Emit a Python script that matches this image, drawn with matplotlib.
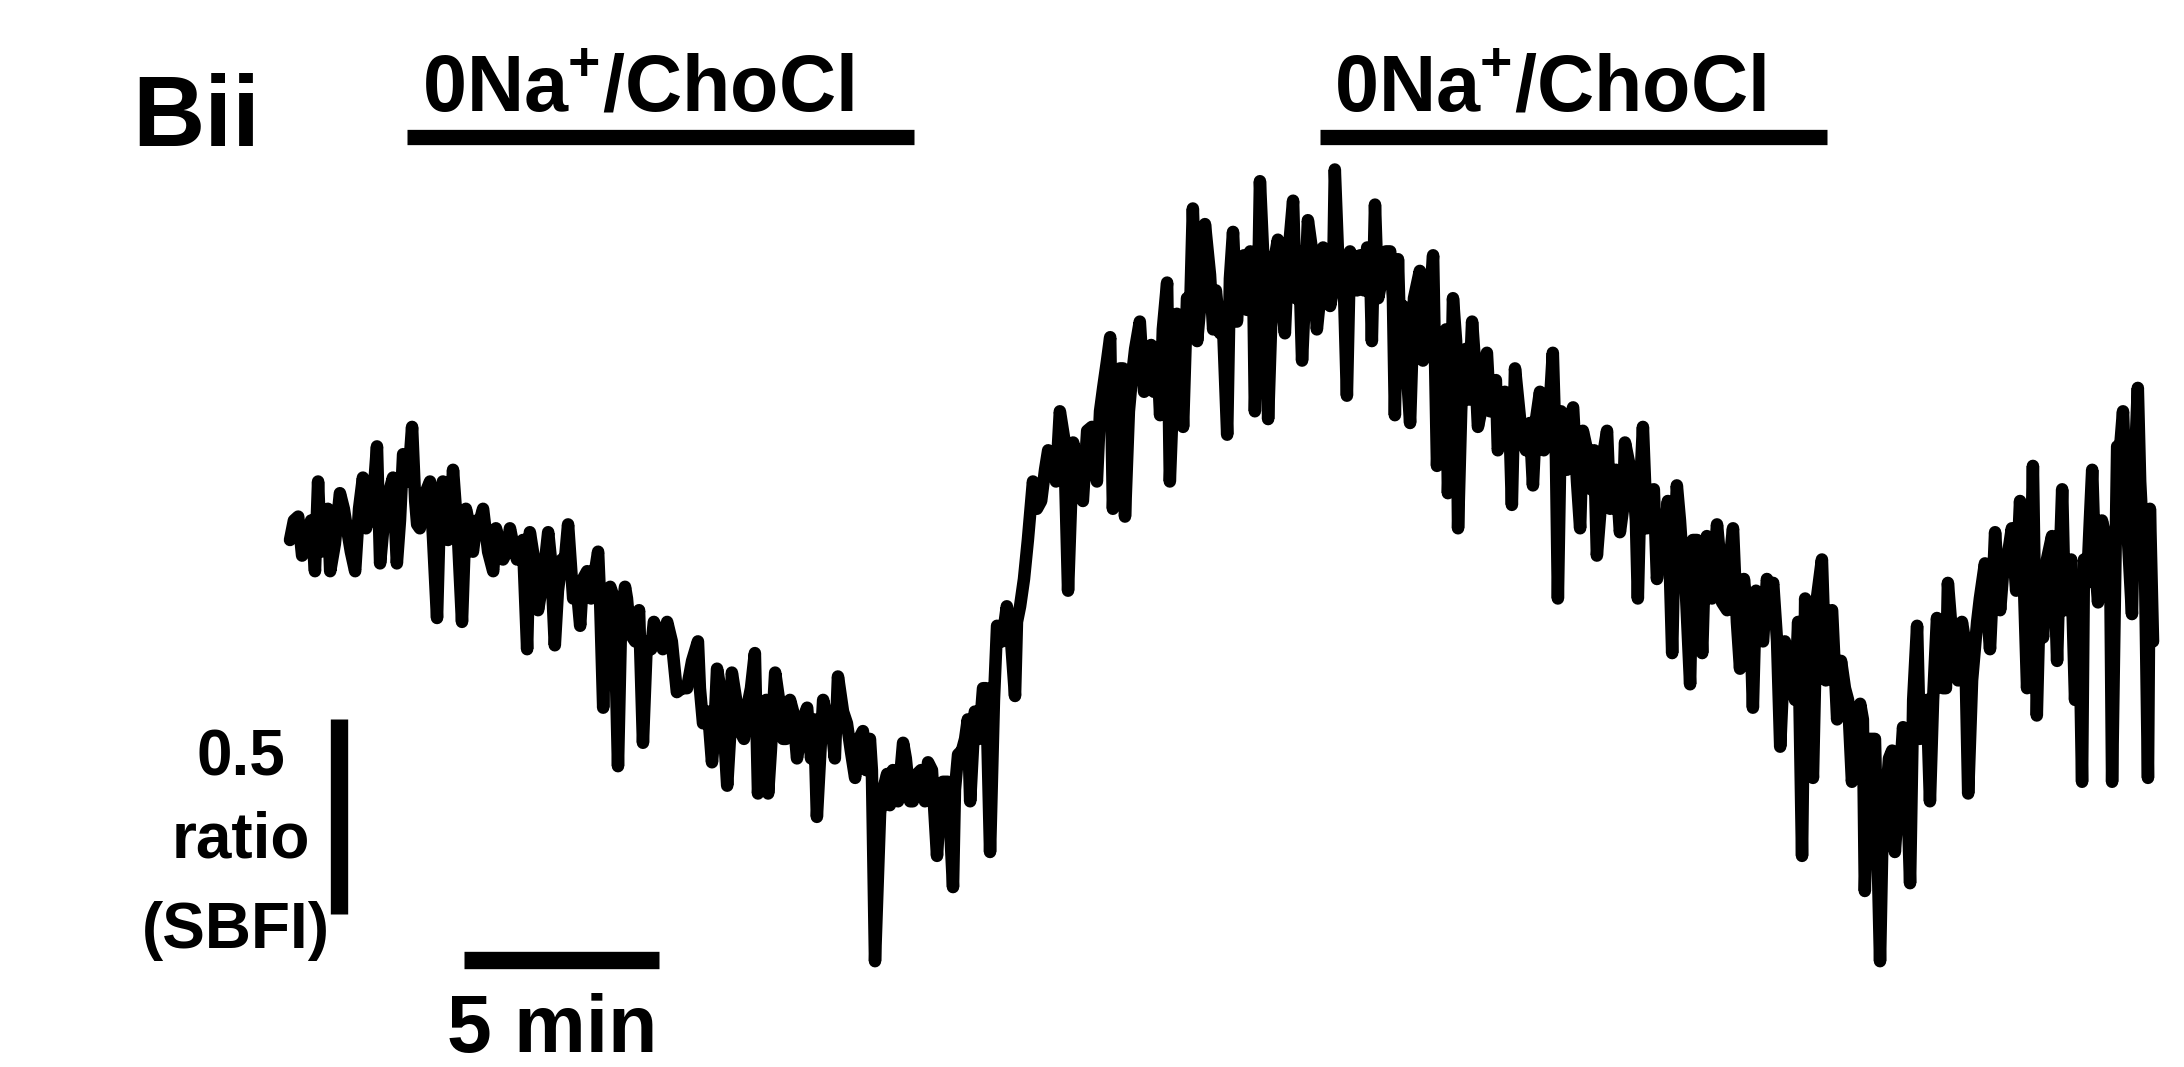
import matplotlib
matplotlib.use("Agg")
import matplotlib.pyplot as plt
import numpy as np

plt.rcParams["font.family"] = ["Liberation Sans", "DejaVu Sans"]
plt.rcParams["font.weight"] = "bold"
plt.rcParams["mathtext.fontset"] = "custom"
plt.rcParams["mathtext.rm"] = "Liberation Sans:bold"
plt.rcParams["mathtext.bf"] = "Liberation Sans:bold"

# SBFI ratio trace (time in min, ratio in offset units).
# spike_* holds the needle extremes, band_* the body of the noisy band.
spike_time = [
    0.00, 0.21, 0.44, 0.64, 0.72, 0.90, 1.03, 1.28, 1.46, 1.67,
    1.87, 2.05, 2.23, 2.31, 2.49, 2.64, 2.74, 2.90, 3.13, 3.26,
    3.41, 3.59, 3.77, 3.92, 4.05, 4.18, 4.41, 4.62, 4.79, 4.95,
    5.21, 5.38, 5.56, 5.72, 5.90, 6.08, 6.15, 6.36, 6.62, 6.79,
    6.97, 7.13, 7.26, 7.44, 7.62, 7.90, 8.03, 8.21, 8.41, 8.59,
    8.72, 9.05, 9.15, 9.41,
    9.67, 9.92, 10.18, 10.46, 10.59, 10.82, 10.95, 11.21, 11.33, 11.54,
    11.72, 11.92, 12.00, 12.13, 12.26, 12.44, 12.64, 12.82, 13.00, 13.26,
    13.51, 13.67, 13.90, 14.05, 14.28, 14.49, 14.69, 14.87, 15.00, 15.13,
    15.31, 15.38, 15.72, 15.90, 16.08, 16.36, 16.59, 16.74, 17.00, 17.13,
    17.31, 17.44, 17.56, 17.77, 17.95, 18.13, 18.38, 18.59, 18.72, 18.92,
    19.05,
    19.15, 19.36, 19.54, 19.74, 19.95, 20.08, 20.33, 20.56, 20.69, 20.85,
    21.03, 21.10, 21.28, 21.41, 21.59, 21.79, 21.97, 22.23, 22.31, 22.49,
    22.56, 22.74, 22.90, 23.08, 23.15, 23.33, 23.46, 23.59, 23.85, 24.03,
    24.18, 24.36, 24.62, 24.74, 24.87, 25.00, 25.08, 25.33, 25.51, 25.72,
    25.95, 26.10, 26.33, 26.49, 26.67, 26.79, 26.92, 27.10, 27.26, 27.62,
    27.74, 27.82, 28.00, 28.21, 28.33,
    28.54, 28.72, 28.97, 29.15, 29.31, 29.41, 29.56, 29.69, 29.82, 29.95,
    30.08, 30.31, 30.46, 30.69, 30.85, 30.97, 31.21, 31.33, 31.41, 31.59,
    31.79, 31.87, 32.05, 32.23, 32.38, 32.51, 32.64, 32.90, 33.08, 33.26,
    33.51, 33.77, 33.92, 34.10, 34.23, 34.44, 34.56, 34.69, 34.87, 35.05,
    35.26, 35.44, 35.56, 35.72, 35.90, 36.08, 36.21, 36.33, 36.59, 36.72,
    37.00, 37.18, 37.38, 37.51, 37.69, 37.87, 38.03,
    38.13, 38.21, 38.46, 38.77, 38.85, 39.05, 39.28, 39.54, 39.67, 39.87,
    40.05, 40.26, 40.38, 40.51, 40.77, 40.92, 41.08, 41.15, 41.36, 41.54,
    41.72, 41.87, 42.05, 42.23, 42.38, 42.51, 42.69, 42.87, 43.03, 43.26,
    43.46, 43.59, 43.72, 43.92, 44.15, 44.36, 44.54, 44.69, 44.79, 44.95,
    45.18, 45.31, 45.44, 45.59, 45.77, 45.95, 46.08, 46.21, 46.36, 46.59,
    46.72, 46.85, 47.00, 47.23, 47.38, 47.51, 47.64, 47.69, 47.77,
]
spike_ratio = [
    1.00, 1.06, 1.01, 0.92, 1.15, 1.03, 0.92, 1.12, 1.03, 0.92,
    1.16, 1.08, 1.24, 0.94, 1.08, 1.16, 0.94, 1.22, 1.29, 1.04,
    1.10, 1.15, 0.80, 1.15, 1.00, 1.18, 0.79, 1.03, 1.05, 1.08,
    0.92, 0.99, 0.97, 0.99, 0.97, 0.72, 1.02, 0.82, 1.02, 0.73,
    0.95, 1.04, 0.85, 0.78, 0.92, 0.97, 0.57, 0.88, 0.42, 0.88,
    0.76, 0.48, 0.74, 0.77,
    0.79, 0.61, 0.62, 0.74, 0.53, 0.43, 0.67, 0.37, 0.66, 0.51,
    0.57, 0.71, 0.35, 0.54, 0.35, 0.66, 0.49, 0.59, 0.44, 0.57,
    0.29, 0.59, 0.51, 0.65, 0.53, 0.39, 0.51, 0.49, -0.08, 0.30,
    0.40, 0.32, 0.48, 0.33, 0.40, 0.43, 0.19, 0.38, 0.11, 0.45,
    0.49, 0.33, 0.56, 0.62, 0.20, 0.78, 0.83, 0.60, 0.83, 1.00,
    1.15,
    1.08, 1.18, 1.22, 1.33, 0.87, 1.25, 1.10, 1.29, 1.15, 1.39,
    1.52, 1.08, 1.44, 1.06, 1.42, 1.56, 1.48, 1.49, 1.32, 1.66,
    1.15, 1.58, 1.29, 1.59, 1.85, 1.59, 1.81, 1.68, 1.53, 1.27,
    1.79, 1.67, 1.74, 1.33, 1.92, 1.72, 1.31, 1.77, 1.53, 1.87,
    1.46, 1.82, 1.54, 1.75, 1.60, 1.95, 1.69, 1.37, 1.72, 1.75,
    1.51, 1.86, 1.67, 1.74, 1.32,
    1.60, 1.30, 1.69, 1.51, 1.73, 1.19, 1.49, 1.12, 1.62, 1.03,
    1.46, 1.56, 1.29, 1.48, 1.40, 1.23, 1.33, 1.09, 1.44, 1.26,
    1.30, 1.14, 1.38, 1.32, 1.48, 0.85, 1.21, 1.34, 1.03, 1.23,
    0.96, 1.28, 1.15, 1.02, 1.25, 1.15, 0.85, 1.29, 1.10, 0.90,
    1.03, 0.71, 1.14, 0.93, 0.63, 1.00, 0.71, 1.01, 1.04, 0.84,
    1.03, 0.67, 0.80, 0.57, 0.76, 0.90, 0.89,
    0.74, 0.47, 0.67, 0.19, 0.85, 0.39, 0.95, 0.82, 0.54, 0.62,
    0.38, 0.58, 0.10, 0.49, -0.08, 0.33, 0.46, 0.20, 0.52, 0.12,
    0.78, 0.58, 0.33, 0.80, 0.62, 0.89, 0.67, 0.79, 0.35, 0.79,
    0.94, 0.72, 1.02, 0.91, 1.03, 1.10, 0.62, 1.19, 0.55, 0.75,
    1.01, 0.69, 1.13, 0.89, 0.59, 0.38, 0.89, 1.18, 0.84, 0.99,
    0.38, 1.24, 1.33, 0.81, 1.39, 1.01, 0.39, 1.08, 0.74,
]

band_time = [
    0.10, 0.31, 0.54, 0.79, 0.97, 1.15, 1.38, 1.56, 1.77,
    1.95, 2.15, 2.41, 2.56, 2.82, 3.03, 3.21,
    3.33, 3.51, 3.67, 3.85, 4.00, 4.13, 4.31, 4.51,
    4.69, 4.87, 5.08, 5.28, 5.46, 5.64, 5.82, 5.97,
    6.26, 6.49, 6.69, 6.87, 7.05, 7.36, 7.51, 7.72,
    7.79, 7.95, 8.10, 8.31, 8.49, 8.64, 8.85, 8.95, 9.26, 9.33,
    9.56, 9.79, 10.05, 10.31, 10.51,
    10.72, 10.87, 11.08, 11.28, 11.44, 11.64, 11.82, 12.08, 12.21, 12.33,
    12.54, 12.72, 12.90, 13.08,
    13.15, 13.36, 13.44, 13.59, 13.77, 13.97, 14.18, 14.38, 14.59, 14.77,
    14.92, 15.21, 15.46, 15.59, 15.79, 15.97, 16.18, 16.28, 16.46, 16.67,
    16.87, 17.05,
    17.23, 17.38, 17.67, 17.85, 18.05, 18.26, 18.49, 18.64, 18.82,
    19.26, 19.44, 19.64, 19.85, 20.21, 20.44, 20.62,
    20.77, 20.95, 21.21, 21.36, 21.51, 21.67, 21.90, 22.08, 22.15, 22.38,
    22.67,
    22.82, 23.00, 23.26, 23.41, 23.67, 23.74, 23.92, 24.10, 24.28, 24.46,
    24.54, 24.69, 24.82, 24.95, 25.18, 25.26, 25.44, 25.59, 25.79, 25.87,
    26.03, 26.21, 26.41, 26.56, 26.74, 26.87, 27.03, 27.18, 27.36, 27.44,
    27.54, 27.69, 27.90, 28.10, 28.28, 28.41,
    28.46, 28.62, 28.82, 29.05, 29.23, 29.49, 29.64,
    29.77, 29.90, 30.03, 30.15, 30.23, 30.38, 30.54, 30.62, 30.77, 30.92,
    31.08, 31.15, 31.28, 31.49, 31.69, 31.95, 32.15, 32.31,
    32.46, 32.59, 32.74, 32.82, 33.00, 33.15, 33.36, 33.44, 33.62, 33.69,
    33.85, 34.00, 34.18, 34.31, 34.51, 34.64, 34.79, 34.97,
    35.15, 35.33, 35.49, 35.64, 35.79, 35.97, 36.15, 36.28, 36.46, 36.67,
    36.85, 36.92, 37.10, 37.28, 37.46, 37.59, 37.77, 37.95,
    38.33, 38.59, 38.67, 38.95, 39.15, 39.38, 39.46, 39.77, 39.95,
    40.15, 40.33, 40.46, 40.64, 40.85, 41.00, 41.26, 41.44, 41.62, 41.79,
    41.97,
    42.13, 42.31, 42.46, 42.59, 42.77, 42.95, 43.13, 43.33, 43.54, 43.67,
    43.85, 44.03, 44.26, 44.44, 44.62, 44.87, 45.05, 45.26, 45.38, 45.51,
    45.67,
    45.87, 46.00, 46.15, 46.28, 46.46, 46.67, 46.92, 47.10, 47.31, 47.44,
    47.56,
]
band_ratio = [
    1.05, 0.96, 1.05, 0.97, 1.08, 0.99, 1.08, 0.97, 1.08,
    1.03, 1.13, 1.05, 1.13, 1.05, 1.15, 1.10,
    1.03, 1.13, 1.00, 1.10, 1.03, 1.08, 1.00, 1.08,
    0.97, 1.05, 0.97, 1.03, 0.95, 1.03, 0.95, 1.00,
    0.95, 0.90, 0.95, 0.87, 0.95, 0.87, 0.90, 0.85,
    0.90, 0.85, 0.79, 0.85, 0.79, 0.85, 0.74, 0.82, 0.72, 0.79,
    0.72, 0.74, 0.62, 0.69, 0.62,
    0.56, 0.49, 0.59, 0.49, 0.59, 0.49, 0.62, 0.49, 0.59, 0.46,
    0.59, 0.49, 0.56, 0.49,
    0.54, 0.44, 0.54, 0.44, 0.54, 0.44, 0.56, 0.46, 0.49, 0.41,
    0.41, 0.36, 0.41, 0.33, 0.44, 0.33, 0.41, 0.33, 0.41, 0.33,
    0.38, 0.36,
    0.46, 0.54, 0.49, 0.62, 0.59, 0.74, 0.74, 0.79, 0.90,
    1.10, 1.23, 1.15, 1.26, 1.18, 1.28, 1.21,
    1.33, 1.46, 1.36, 1.44, 1.33, 1.49, 1.38, 1.50, 1.38, 1.54,
    1.44,
    1.51, 1.62, 1.51, 1.62, 1.54, 1.64, 1.56, 1.67, 1.56, 1.73,
    1.59, 1.72, 1.62, 1.74, 1.62, 1.73, 1.60, 1.72, 1.62, 1.74,
    1.64, 1.74, 1.62, 1.72, 1.64, 1.74, 1.62, 1.74, 1.64, 1.73,
    1.64, 1.72, 1.62, 1.74, 1.62, 1.72,
    1.54, 1.46, 1.62, 1.46, 1.62, 1.41, 1.54,
    1.36, 1.51, 1.33, 1.49, 1.36, 1.46, 1.33, 1.44, 1.33, 1.41,
    1.28, 1.38, 1.26, 1.36, 1.23, 1.31, 1.23, 1.36,
    1.21, 1.33, 1.18, 1.31, 1.15, 1.28, 1.13, 1.23, 1.10, 1.23,
    1.08, 1.18, 1.08, 1.21, 1.05, 1.18, 1.03, 1.13,
    1.00, 1.10, 0.95, 1.05, 0.87, 1.00, 0.85, 0.95, 0.85, 0.95,
    0.82, 0.95, 0.79, 0.90, 0.74, 0.87, 0.74, 0.85,
    0.74, 0.59, 0.79, 0.59, 0.85, 0.64, 0.79, 0.69, 0.59,
    0.49, 0.54, 0.38, 0.49, 0.33, 0.44, 0.36, 0.44, 0.59, 0.49,
    0.59,
    0.59, 0.72, 0.62, 0.79, 0.64, 0.74, 0.64, 0.85, 0.79, 0.90,
    0.82, 0.95, 0.87, 0.95, 0.82, 0.87, 0.95, 0.85, 0.95, 0.82,
    0.95,
    0.85, 0.95, 1.05, 0.95, 1.05, 0.95, 1.23, 1.05, 1.21, 1.15,
    0.95,
]

# 0Na+/ChoCl application periods (min)
solution_label = "0Na$^{+}$/ChoCl"
solution_on = [3.0, 26.4]
solution_off = [16.0, 39.4]

# scale bars
scale_time = 5.0      # min
scale_ratio = 0.5     # ratio units
scale_time_start = 4.46
scale_x = 1.26
scale_ratio_bottom = 0.04

t_all = np.array(spike_time + band_time)
r_all = np.array(spike_ratio + band_ratio)
order = np.argsort(t_all, kind="stable")

fig = plt.figure(figsize=(21.84, 10.67), dpi=100)
ax = fig.add_axes([0, 0, 1, 1])
ax.set_xlim(-7.436, 48.564)
ax.set_ylim(-0.3513, 2.3846)
ax.axis("off")

ax.plot(t_all[order], r_all[order], color="black", linewidth=9,
        solid_joinstyle="round", solid_capstyle="round")

bar_y = 2.033
for on, off in zip(solution_on, solution_off):
    ax.plot([on, off], [bar_y, bar_y], color="black", linewidth=11,
            solid_capstyle="butt")
    ax.text(on + 0.38, 2.10, solution_label, fontsize=57, fontweight="bold",
            ha="left", va="baseline")

# vertical scale bar
ax.plot([scale_x, scale_x], [scale_ratio_bottom, scale_ratio_bottom + scale_ratio],
        color="black", linewidth=12.5, solid_capstyle="butt")
ax.text(-1.25, 0.395, "0.5", fontsize=46, fontweight="bold", ha="center", va="baseline")
ax.text(-1.25, 0.187, "ratio", fontsize=46, fontweight="bold", ha="center", va="baseline")
ax.text(-1.38, -0.046, "(SBFI)", fontsize=46, fontweight="bold", ha="center", va="baseline")

# horizontal scale bar
ax.plot([scale_time_start, scale_time_start + scale_time], [-0.077, -0.077],
        color="black", linewidth=12.5, solid_capstyle="butt")
ax.text(6.72, -0.313, "5 min", fontsize=58, fontweight="bold", ha="center", va="baseline")

ax.text(-4.05, 2.01, "Bii", fontsize=72, fontweight="bold", ha="left", va="baseline")

fig.savefig("out.png", dpi=100)
